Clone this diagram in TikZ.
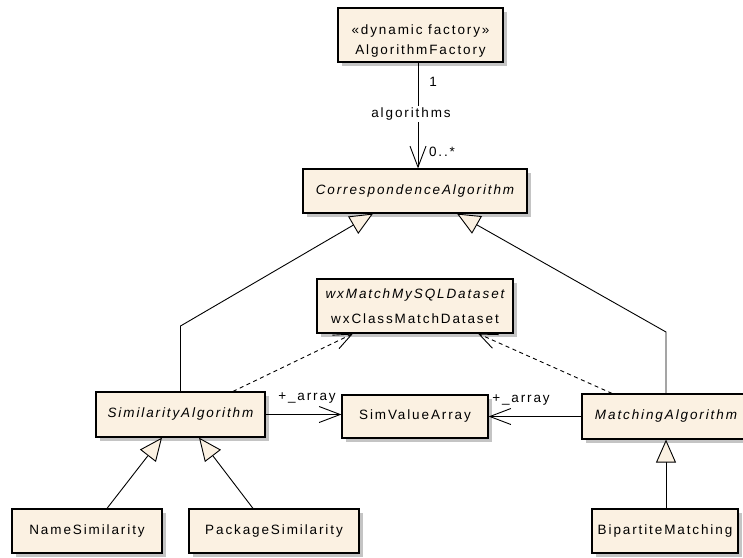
\documentclass[tikz,border=0pt]{standalone}
\usepackage{fontspec}
\setmainfont[LetterSpace=14]{Liberation Sans}
\usetikzlibrary{arrows.meta,shadows,calc}
\definecolor{boxfill}{HTML}{FBF1E2}
\definecolor{shadowgray}{HTML}{C4C4C4}
\tikzset{
  cls/.style={draw=black, line width=1.2pt, fill=boxfill, inner sep=0pt,
    drop shadow={shadow xshift=4pt, shadow yshift=-4pt, fill=shadowgray, opacity=1},
    font=\fontsize{13.5}{16}\selectfont, align=center},
  lbl/.style={inner sep=1pt, font=\fontsize{13.5}{16}\selectfont},
  conn/.style={line width=0.9pt, draw=black},
  assoc/.style={conn, -{Straight Barb[length=21pt,width=16pt]}},
  depend/.style={conn, dash pattern=on 4pt off 3.5pt, -{Straight Barb[length=18pt,width=15pt]}},
  gen/.style={conn, line join=miter, -{Triangle[length=23pt,width=20pt,fill=boxfill]}}
}
\begin{document}
\begin{tikzpicture}[x=1pt,y=-1pt]
\useasboundingbox (0,0) rectangle (743,557);
% classes
\node[cls, minimum width=165pt, minimum height=54pt] (fac) at (420.5,35)
  {\rule{0pt}{22pt}«dynamic factory»\\[4pt]AlgorithmFactory};
\node[cls, minimum width=224pt, minimum height=44pt] (corr) at (415,191)
  {\itshape CorrespondenceAlgorithm};
\node[cls, minimum width=196pt, minimum height=54pt] (wx) at (415,306)
  {\itshape wxMatchMySQLDataset\\[9pt]wxClassMatchDataset};
\node[cls, minimum width=169pt, minimum height=45pt] (sim) at (180.5,414.5)
  {\itshape SimilarityAlgorithm};
\node[cls, minimum width=146pt, minimum height=43pt] (sva) at (415,416.5)
  {SimValueArray};
\node[cls, minimum width=168pt, minimum height=45pt] (mat) at (666,416.5)
  {\itshape MatchingAlgorithm};
\node[cls, minimum width=150pt, minimum height=44pt] (name) at (87,531)
  {NameSimilarity};
\node[cls, minimum width=170pt, minimum height=44pt] (pkg) at (274,531)
  {PackageSimilarity};
\node[cls, minimum width=146pt, minimum height=44pt] (bip) at (665,531)
  {BipartiteMatching};
% factory association
\coordinate (facb) at ($(fac.south)+(-2.5,0)$);
\draw[assoc] (facb) -- (facb |- corr.north);
\node[lbl] (m1) at (433,82) {1};
\node[lbl, fill=white, inner sep=2pt] (m2) at (411,114) {algorithms};
\node[lbl] (m3) at (442,152) {0..*};
% generalizations to CorrespondenceAlgorithm
\coordinate (bendL) at (181,326);
\coordinate (bendR) at (666,332);
\draw[gen] (sim.north) -- (sim.north |- bendL) -- ($(corr.south)+(-42,0)$);
\draw[gen] (mat.north) -- (mat.north |- bendR) -- ($(corr.south)+(42,0)$);
% dependencies
\draw[depend] ($(sim.north)+(52.5,0)$) -- ($(wx.south)+(-62,0)$);
\draw[depend] ($(mat.north)+(-54,0)$) -- ($(wx.south)+(63,0)$);
% associations to SimValueArray
\draw[assoc] (sim.east) -- (sim.east -| sva.west);
\draw[assoc] (mat.west) -- (mat.west -| sva.east);
\node[lbl] (a1) at (307,398) {+\_array};
\node[lbl] (a2) at (521,400) {+\_array};
% lower generalizations
\draw[gen] ($(name.north)+(20,0)$) -- ($(sim.south)+(-18.5,0)$);
\draw[gen] ($(pkg.north)+(-21,0)$) -- ($(sim.south)+(18.5,0)$);
\draw[gen] ($(bip.north)+(1,0)$) -- (mat.south);
\end{tikzpicture}
\end{document}
